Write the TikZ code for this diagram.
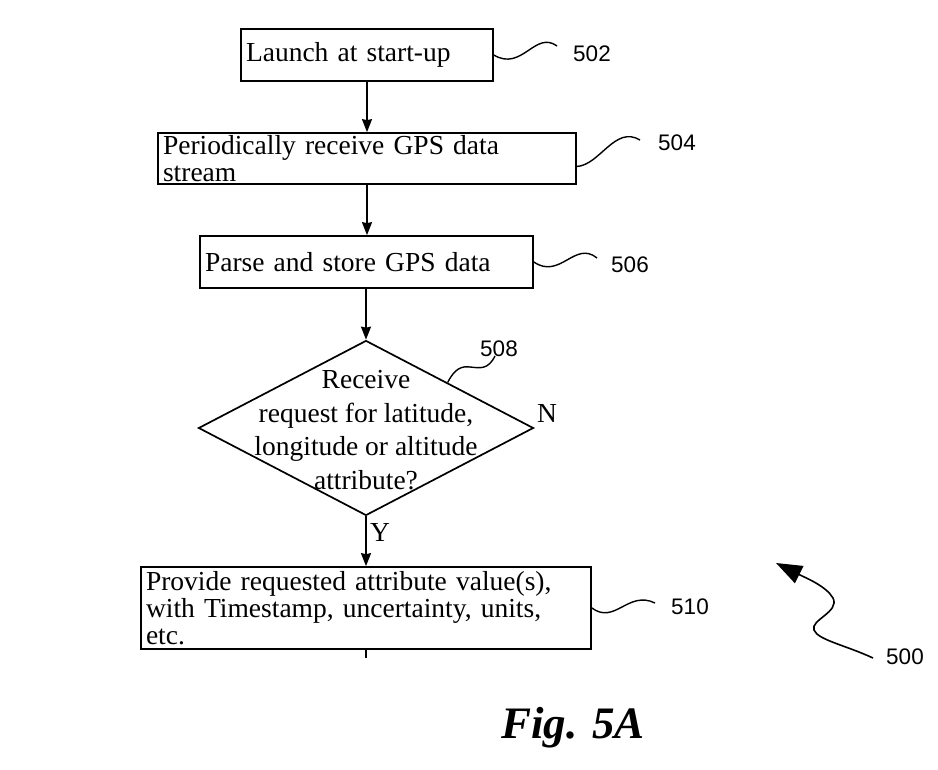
\documentclass[tikz,border=0pt]{standalone}
\usepackage{fontspec}
\setmainfont{Liberation Serif}
\newfontfamily\numfont{Liberation Sans}
\usetikzlibrary{shapes.geometric,arrows.meta,calc}
\begin{document}
\begin{tikzpicture}[x=1pt,y=-1pt,
 box/.style={draw,line width=1.7pt,inner xsep=5pt,inner ysep=0pt,align=left,font=\fontsize{27.5}{27}\selectfont},
 flow/.style={line width=1.6pt,-{Stealth[length=13pt,width=10pt,inset=1pt]}},
 lead/.style={line width=1.4pt},
 num/.style={font=\numfont\fontsize{22.5}{24}\selectfont,inner sep=0pt},
 lbl/.style={font=\fontsize{27.5}{27}\selectfont,inner sep=0pt}]
\useasboundingbox (0,0) rectangle (938,770);
% boxes
\node[box,text width=242pt,minimum height=52pt] (b502) at (367,55) {Launch at start-up};
\node[box,text width=408pt,minimum height=51pt] (b504) at (367,158.5) {Periodically receive GPS data\\stream};
\node[box,text width=323pt,minimum height=52pt] (b506) at (366.5,262) {Parse and store GPS data};
\node[draw,diamond,line width=1.7pt,minimum width=335pt,minimum height=175pt,inner sep=0pt,aspect=1.914] (d508) at (366,428) {};
\node[lbl,align=center,font=\fontsize{27.5}{33.5}\selectfont] (t508) at (366,430) {Receive\\request for latitude,\\longitude or altitude\\attribute?};
\node[box,text width=440pt,minimum height=82pt] (b510) at (366,608) {Provide requested attribute value(s),\\with Timestamp, uncertainty, units,\\etc.};
% flow arrows
\draw[flow] (b502.south) -- (b502.south |- b504.north);
\draw[flow] (b504.south -| b502.south) -- (b502.south |- b506.north);
\draw[flow] (b506.south -| d508.north) -- (d508.north);
\draw[flow] (d508.south) -- (d508.south |- b510.north);
\coordinate (stub) at (366,658);
\draw[line width=1.6pt] (b510.south) -- (stub);
% branch labels
\node[lbl] (ln) at (547,413) {N};
\node[lbl] (ly) at (380,532) {Y};
% reference leaders
\coordinate (e502) at (557,46);
\draw[lead] (b502.east) .. controls (522,72) and (535,30) .. (e502);
\node[num] (l502) at (592,54) {502};
\coordinate (e504) at (640,140);
\draw[lead] ([yshift=-8pt]b504.east) .. controls (600,165) and (615,125) .. (e504);
\node[num] (l504) at (677,143) {504};
\coordinate (e506) at (597,258);
\draw[lead] (b506.east) .. controls (560,280) and (575,240) .. (e506);
\node[num] (l506) at (630,265) {506};
\coordinate (e510) at (655,603);
\draw[lead] (b510.east) .. controls (615,625) and (628,590) .. (e510);
\node[num] (l510) at (690,607) {510};
\coordinate (s508) at ($(d508.north)!0.485!(d508.east)$);
\coordinate (e508) at (495,356);
\draw[lead] (s508) .. controls (455,368) and (462,366) .. (470,367) .. controls (480,368) and (488,370) .. (e508);
\node[num] (l508) at (499,349) {508};
% overall reference arrow
\coordinate (a500s) at (873,658);
\coordinate (a500e) at (776,563);
\draw[line width=1.6pt,-{Triangle[length=26pt,width=19pt]}] (a500s) .. controls (845,645) and (818,640) .. (814,630) .. controls (810,620) and (840,612) .. (833,598) .. controls (826,586) and (806,578) .. (a500e);
\node[num] (l500) at (905,657) {500};
% caption
\node[font=\bfseries\itshape\fontsize{45}{50}\selectfont,inner sep=0pt] (fig) at (573,728) {Fig. 5A};
\end{tikzpicture}
\end{document}
